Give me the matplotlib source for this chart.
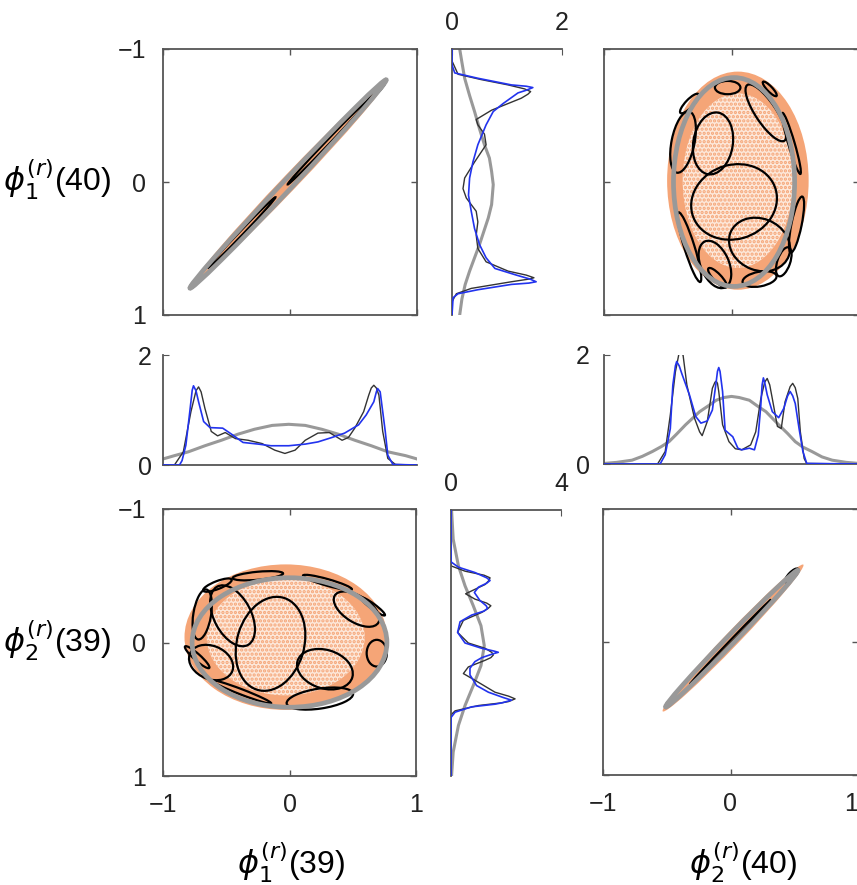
import matplotlib
matplotlib.use('Agg')
import matplotlib.pyplot as plt
from matplotlib.patches import Ellipse

plt.rcParams['font.family'] = ['Liberation Sans', 'DejaVu Sans']
plt.rcParams['mathtext.fontset'] = 'dejavusans'
plt.rcParams['hatch.linewidth'] = 1.6

# ---------------- data ----------------
# ticks
scatter_ticks = [-1, 0, 1]
scatter_ticklabels = ['\u22121', '0', '1']

# middle-left density: phi1(39)
ml_blue_x = [-1.0, -0.87, -0.85, -0.82, -0.79, -0.77, -0.76, -0.74, -0.72, -0.68, -0.63, -0.53, -0.46, -0.37, -0.25,
             -0.15, -0.01, 0.12, 0.22, 0.33, 0.43, 0.54, 0.60, 0.66, 0.68, 0.69, 0.71, 0.72, 0.75, 0.77, 0.81, 1.0]
ml_blue_d = [0, 0, 0.08, 0.36, 0.95, 1.36, 1.44, 1.35, 1.15, 0.79, 0.68, 0.67, 0.56, 0.41, 0.38,
             0.35, 0.35, 0.38, 0.42, 0.50, 0.58, 0.73, 0.91, 1.15, 1.33, 1.39, 1.33, 1.15, 0.61, 0.18, 0.01, 0]
ml_black_x = [-1.0, -0.91, -0.84, -0.78, -0.74, -0.72, -0.70, -0.67, -0.62, -0.57, -0.51, -0.43, -0.33, -0.22, -0.12,
              -0.04, 0.04, 0.12, 0.22, 0.31, 0.41, 0.46, 0.51, 0.58, 0.62, 0.64, 0.66, 0.68, 0.70, 0.73, 0.77, 0.83, 1.0]
ml_black_d = [0, 0, 0.24, 0.97, 1.35, 1.42, 1.33, 1.03, 0.61, 0.53, 0.59, 0.48, 0.45, 0.39, 0.27,
              0.21, 0.27, 0.45, 0.58, 0.59, 0.45, 0.50, 0.67, 0.97, 1.27, 1.40, 1.45, 1.40, 1.27, 0.61, 0.12, 0.01, 0]
ml_gray_x = [-1.0, -0.91, -0.80, -0.67, -0.54, -0.41, -0.28, -0.14, -0.01, 0.12, 0.25, 0.38, 0.51, 0.64, 0.77, 0.91, 1.0]
ml_gray_d = [0.11, 0.17, 0.24, 0.35, 0.45, 0.56, 0.65, 0.72, 0.74, 0.72, 0.65, 0.56, 0.45, 0.35, 0.24, 0.17, 0.11]

# middle-right density: phi2(40)
mr_blue_x = [-1.0, -0.56, -0.52, -0.48, -0.46, -0.44, -0.43, -0.41, -0.39, -0.33, -0.28, -0.24, -0.19, -0.15, -0.12,
             -0.11, -0.10, -0.09, -0.07, -0.05, -0.02, 0.01, 0.05, 0.08, 0.14, 0.18, 0.21, 0.23, 0.24, 0.25, 0.26,
             0.28, 0.32, 0.37, 0.41, 0.44, 0.46, 0.48, 0.50, 0.53, 0.56, 0.59, 1.0]
mr_blue_d = [0, 0, 0.17, 0.65, 1.45, 1.80, 1.88, 1.80, 1.66, 1.27, 0.87, 0.75, 0.79, 0.99, 1.51,
             1.70, 1.77, 1.70, 1.33, 0.62, 0.56, 0.50, 0.29, 0.26, 0.29, 0.26, 0.53, 1.08, 1.45, 1.58, 1.50,
             1.27, 0.96, 0.85, 1.02, 1.25, 1.33, 1.25, 1.11, 0.65, 0.23, 0.01, 0]
mr_black_x = [-1.0, -0.58, -0.52, -0.48, -0.44, -0.41, -0.38, -0.35, -0.29, -0.25, -0.23, -0.19, -0.15, -0.13,
              -0.12, -0.11, -0.10, -0.07, -0.02, 0.03, 0.08, 0.15, 0.19, 0.23, 0.26, 0.28, 0.30, 0.32, 0.36, 0.39,
              0.42, 0.46, 0.48, 0.50, 0.52, 0.54, 0.57, 0.59, 1.0]
mr_black_d = [0, 0, 0.23, 0.90, 1.69, 2.05, 2.00, 1.45, 0.84, 0.59, 0.52, 0.78, 1.39, 1.50,
              1.52, 1.48, 1.33, 0.72, 0.41, 0.28, 0.26, 0.35, 0.59, 1.20, 1.50, 1.57, 1.45, 1.20, 0.69, 0.65,
              1.14, 1.42, 1.48, 1.40, 1.20, 0.59, 0.10, 0.01, 0]
mr_gray_x = [-1.0, -0.9, -0.78, -0.7, -0.62, -0.55, -0.49, -0.43, -0.36, -0.25, -0.18, -0.12, -0.06, 0.0,
             0.06, 0.14, 0.20, 0.27, 0.37, 0.44, 0.50, 0.56, 0.63, 0.71, 0.79, 0.9, 1.0]
mr_gray_d = [0.01, 0.03, 0.07, 0.14, 0.23, 0.32, 0.41, 0.55, 0.72, 0.96, 1.07, 1.17, 1.22, 1.24,
             1.22, 1.17, 1.07, 0.96, 0.72, 0.56, 0.41, 0.31, 0.23, 0.13, 0.07, 0.03, 0.01]

# top-middle density (vertical): phi1(40)
tm_blue_y = [-1.0, -0.88, -0.82, -0.78, -0.73, -0.72, -0.71, -0.69, -0.67, -0.59, -0.53, -0.43, -0.28, -0.15, -0.03,
             0.10, 0.22, 0.35, 0.47, 0.57, 0.65, 0.70, 0.73, 0.75, 0.76, 0.77, 0.81, 0.84, 0.87, 1.0]
tm_blue_d = [0, 0, 0.05, 0.47, 1.08, 1.35, 1.47, 1.35, 1.20, 0.93, 0.75, 0.62, 0.47, 0.38, 0.32,
             0.30, 0.35, 0.41, 0.50, 0.62, 0.78, 1.17, 1.42, 1.53, 1.40, 1.08, 0.47, 0.11, 0.02, 0]
tm_black_y = [-1.0, -0.91, -0.81, -0.77, -0.73, -0.70, -0.68, -0.66, -0.63, -0.54, -0.47, -0.43, -0.36, -0.28, -0.15,
              -0.03, 0.05, 0.12, 0.22, 0.30, 0.40, 0.50, 0.60, 0.67, 0.70, 0.72, 0.73, 0.75, 0.80, 0.84, 0.90, 1.0]
tm_black_d = [0, 0, 0.11, 0.53, 1.02, 1.32, 1.43, 1.38, 1.26, 0.72, 0.44, 0.47, 0.59, 0.62, 0.41,
              0.23, 0.20, 0.26, 0.44, 0.47, 0.44, 0.47, 0.62, 1.02, 1.35, 1.49, 1.40, 1.08, 0.35, 0.08, 0, 0]
tm_gray_y = [-1.0, -0.9, -0.78, -0.65, -0.53, -0.4, -0.28, -0.18, -0.08, 0.02, 0.07, 0.17, 0.27, 0.37,
             0.47, 0.57, 0.67, 0.77, 0.88, 1.0]
tm_gray_d = [0.14, 0.18, 0.23, 0.32, 0.41, 0.50, 0.59, 0.68, 0.72, 0.75, 0.74, 0.72, 0.66, 0.58,
             0.50, 0.41, 0.32, 0.24, 0.18, 0.14]

# bottom-middle density (vertical): phi2(39)
bm_blue_y = [-1.0, -0.61, -0.57, -0.53, -0.49, -0.47, -0.45, -0.42, -0.38, -0.32, -0.28, -0.26, -0.24, -0.21, -0.16,
             -0.08, 0.0, 0.04, 0.06, 0.07, 0.08, 0.11, 0.14, 0.19, 0.24, 0.32, 0.37, 0.41, 0.43, 0.45, 0.46, 0.48,
             0.52, 0.56, 1.0]
bm_blue_d = [0, 0, 0.27, 0.87, 1.30, 1.42, 1.30, 1.00, 0.85, 1.05, 1.28, 1.33, 1.20, 0.75, 0.33,
             0.24, 0.51, 1.12, 1.55, 1.72, 1.55, 1.12, 0.87, 0.69, 0.69, 0.93, 1.36, 1.90, 2.20, 1.85, 1.60, 0.75,
             0.15, 0, 0]
bm_black_y = [-1.0, -0.58, -0.54, -0.51, -0.49, -0.47, -0.44, -0.37, -0.33, -0.30, -0.28, -0.26, -0.23, -0.17,
              -0.08, 0.0, 0.04, 0.07, 0.09, 0.11, 0.13, 0.18, 0.23, 0.28, 0.37, 0.40, 0.42, 0.44, 0.45, 0.47,
              0.51, 0.54, 1.0]
bm_black_d = [0, 0, 0.51, 1.20, 1.42, 1.38, 1.24, 0.53, 0.87, 1.30, 1.45, 1.35, 1.12, 0.45,
              0.24, 0.63, 1.24, 1.48, 1.54, 1.45, 1.24, 0.63, 0.45, 0.87, 1.60, 2.10, 2.33, 2.10, 1.84, 1.00,
              0.15, 0, 0]
bm_gray_y = [-1.0, -0.78, -0.58, -0.43, -0.28, -0.13, 0.02, 0.17, 0.32, 0.47, 0.62, 0.82, 1.0]
bm_gray_d = [0.02, 0.08, 0.27, 0.51, 0.81, 1.09, 1.21, 1.09, 0.81, 0.51, 0.27, 0.08, 0.02]

# scatter panels: sample cloud extent (cx, cy, width, height, angle)
tl_cloud = (0.0, 0.0, 2.10, 0.12, -45.0)
tr_cloud = (0.05, -0.01, 1.11, 1.64, 0.0)
bl_cloud = (-0.03, -0.04, 1.60, 1.09, 0.0)
br_cloud = (0.02, -0.03, 1.56, 0.11, -45.0)

# overall Gaussian (gray ellipse)
tl_gauss = (-0.015, 0.015, 2.20, 0.075, -45.4)
tr_gauss = (0.02, 0.0, 0.95, 1.57, 0.0)
bl_gauss = (0.0, 0.0, 1.54, 0.97, 0.0)
br_gauss = (0.01, -0.025, 1.46, 0.065, -44.7)

# mixture components (black ellipses)
tl_comp_x = [-0.76, -0.38, 0.30, 0.68]
tl_comp_y = [0.77, 0.38, -0.30, -0.68]
tl_comp_w = [0.07, 0.75, 0.90, 0.20]
tl_comp_h = [0.03, 0.03, 0.03, 0.03]
tl_comp_a = [-45, -45, -45, -45]

tr_comp_x = [-0.03, 0.27, 0.47, -0.38, -0.145, 0.02, 0.22, -0.13, 0.22, -0.33, 0.51, 0.41, -0.33, -0.11, 0.30]
tr_comp_y = [-0.71, -0.52, -0.29, -0.30, -0.29, 0.15, 0.47, 0.62, 0.73, 0.49, 0.32, 0.60, -0.59, 0.72, -0.70]
tr_comp_w = [0.20, 0.51, 0.48, 0.47, 0.47, 0.68, 0.49, 0.38, 0.27, 0.55, 0.43, 0.23, 0.20, 0.20, 0.15]
tr_comp_h = [0.10, 0.16, 0.05, 0.18, 0.31, 0.56, 0.39, 0.22, 0.11, 0.08, 0.08, 0.10, 0.06, 0.06, 0.04]
tr_comp_a = [0, 55, 73, -78, -80, -15, 20, 65, -10, 72, 102, 110, -45, 45, 45]

bl_comp_x = [-0.69, -0.45, -0.15, 0.53, 0.28, -0.62, 0.24, -0.38, -0.25, 0.30, 0.66, 0.69, -0.57, -0.73]
bl_comp_y = [-0.21, -0.20, 0.01, -0.25, 0.20, 0.15, 0.42, 0.37, -0.50, -0.45, -0.27, 0.08, -0.43, 0.11]
bl_comp_w = [0.38, 0.50, 0.72, 0.40, 0.45, 0.36, 0.53, 0.50, 0.40, 0.40, 0.23, 0.20, 0.24, 0.25]
bl_comp_h = [0.14, 0.29, 0.53, 0.20, 0.29, 0.25, 0.15, 0.04, 0.06, 0.05, 0.04, 0.16, 0.06, 0.05]
bl_comp_a = [100, 60, -72, 30, 15, 20, -8, 20, -5, 15, 35, 90, -20, 40]

br_comp_x = [-0.48, 0.48, 0.0]
br_comp_y = [0.46, -0.50, 0.0]
br_comp_w = [0.07, 0.14, 0.90]
br_comp_h = [0.03, 0.05, 0.02]
br_comp_a = [-45, -45, -45]

# ---------------- style ----------------
ORANGE = '#F5A577'
LIGHT_ORANGE = '#FDE8DA'
BLUE = '#2233EE'
DARK = '#333333'
GRAY = '#999999'
SPINE = '#555555'
TXT = '#222222'
TICK_FS = 18
LAB_FS = 23

W, H = 857, 885
fig = plt.figure(figsize=(W / 100, H / 100), dpi=100)


def rect(l, t, r, b):
    return [l / W, 1 - b / H, (r - l) / W, (b - t) / H]


def style_spines(ax, visible=('left', 'right', 'top', 'bottom')):
    for k, s in ax.spines.items():
        s.set_color(SPINE)
        s.set_linewidth(1.3)
        s.set_visible(k in visible)


def scatter_panel(r, cloud, gauss, cx, cy, cw, ch, ca, xlab, ylab, dense_cloud=True):
    ax = fig.add_axes(r)
    ax.set_xlim(-1, 1)
    ax.set_ylim(1, -1)
    x0, y0, w0, h0, a0 = cloud
    ax.add_patch(Ellipse((x0, y0), w0, h0, angle=a0, facecolor=ORANGE, edgecolor='none', zorder=1))
    if dense_cloud:
        ax.add_patch(Ellipse((x0, y0), w0 * 0.78, h0 * 0.8, angle=a0, facecolor=LIGHT_ORANGE,
                             edgecolor=ORANGE, hatch='....', linewidth=0, zorder=1.5))
    for x, y, w, h, a in zip(cx, cy, cw, ch, ca):
        ax.add_patch(Ellipse((x, y), w, h, angle=a, facecolor='none', edgecolor='black',
                             linewidth=1.6, zorder=2))
    gx, gy, gw, gh, ga = gauss
    ax.add_patch(Ellipse((gx, gy), gw, gh, angle=ga, facecolor='none', edgecolor=GRAY,
                         linewidth=3.4, zorder=3))
    ax.set_xticks(scatter_ticks)
    ax.set_yticks(scatter_ticks)
    ax.set_xticklabels(scatter_ticklabels if xlab else [])
    ax.set_yticklabels(scatter_ticklabels if ylab else [])
    ax.tick_params(direction='in', length=4, width=1, color=SPINE, top=True, right=True,
                   labelsize=TICK_FS, pad=12, labelcolor=TXT)
    style_spines(ax)
    return ax


# top row
scatter_panel(rect(163, 49, 417, 315), tl_cloud, tl_gauss, tl_comp_x, tl_comp_y, tl_comp_w,
              tl_comp_h, tl_comp_a, False, True, dense_cloud=False)
scatter_panel(rect(604, 49, 859, 315), tr_cloud, tr_gauss, tr_comp_x, tr_comp_y, tr_comp_w,
              tr_comp_h, tr_comp_a, False, False)
# bottom row
scatter_panel(rect(163, 509, 416, 776), bl_cloud, bl_gauss, bl_comp_x, bl_comp_y, bl_comp_w,
              bl_comp_h, bl_comp_a, True, True)
ax_br = scatter_panel(rect(603, 509, 858, 775), br_cloud, br_gauss, br_comp_x, br_comp_y, br_comp_w,
                      br_comp_h, br_comp_a, True, False, dense_cloud=False)
ax_br.get_xticklabels()[-1].set_horizontalalignment('right')


def hdens(r, gx, gd, bx, bd, kx, kd, pad):
    ax = fig.add_axes(r)
    ax.plot(gx, gd, color=GRAY, lw=2.2, zorder=1)
    ax.plot(kx, kd, color=DARK, lw=1.0, zorder=2)
    ax.plot(bx, bd, color=BLUE, lw=1.2, zorder=3)
    ax.set_xlim(-1, 1)
    ax.set_ylim(0, 2)
    ax.set_xticks([])
    ax.set_yticks([0, 2])
    ax.set_yticklabels(['0', '2'])
    ax.tick_params(direction='in', length=4, color=SPINE, labelsize=TICK_FS, pad=pad, labelcolor=TXT)
    style_spines(ax, ('left', 'bottom'))


def vdens(r, gy, gd, by, bd, ky, kd, xmax):
    ax = fig.add_axes(r)
    ax.plot(gd, gy, color=GRAY, lw=2.2, zorder=1)
    ax.plot(kd, ky, color=DARK, lw=1.0, zorder=2)
    ax.plot(bd, by, color=BLUE, lw=1.2, zorder=3)
    ax.set_ylim(1, -1)
    ax.set_xlim(0, xmax)
    ax.set_yticks([])
    ax.xaxis.tick_top()
    ax.set_xticks([0, xmax])
    ax.set_xticklabels(['0', str(xmax)])
    ax.tick_params(direction='in', length=4, color=SPINE, labelsize=TICK_FS, pad=10, labelcolor=TXT)
    style_spines(ax, ('left', 'top'))


hdens(rect(163, 355, 417, 465), ml_gray_x, ml_gray_d, ml_blue_x, ml_blue_d, ml_black_x, ml_black_d, 8)
hdens(rect(604, 355, 859, 464), mr_gray_x, mr_gray_d, mr_blue_x, mr_blue_d, mr_black_x, mr_black_d, 10)
vdens(rect(452, 49, 562, 315), tm_gray_y, tm_gray_d, tm_blue_y, tm_blue_d, tm_black_y, tm_black_d, 2)
vdens(rect(451, 510, 561, 776), bm_gray_y, bm_gray_d, bm_blue_y, bm_blue_d, bm_black_y, bm_black_d, 4)

# axis labels
fig.text(57 / W, 1 - 191 / H, r'$\phi_1^{(r)}$(40)', fontsize=LAB_FS, ha='center', va='baseline', color='black')
fig.text(57 / W, 1 - 652 / H, r'$\phi_2^{(r)}$(39)', fontsize=LAB_FS, ha='center', va='baseline', color='black')
fig.text(291 / W, 1 - 874 / H, r'$\phi_1^{(r)}$(39)', fontsize=LAB_FS, ha='center', va='baseline', color='black')
fig.text(743 / W, 1 - 874 / H, r'$\phi_2^{(r)}$(40)', fontsize=LAB_FS, ha='center', va='baseline', color='black')

fig.savefig('out.png', dpi=100)
